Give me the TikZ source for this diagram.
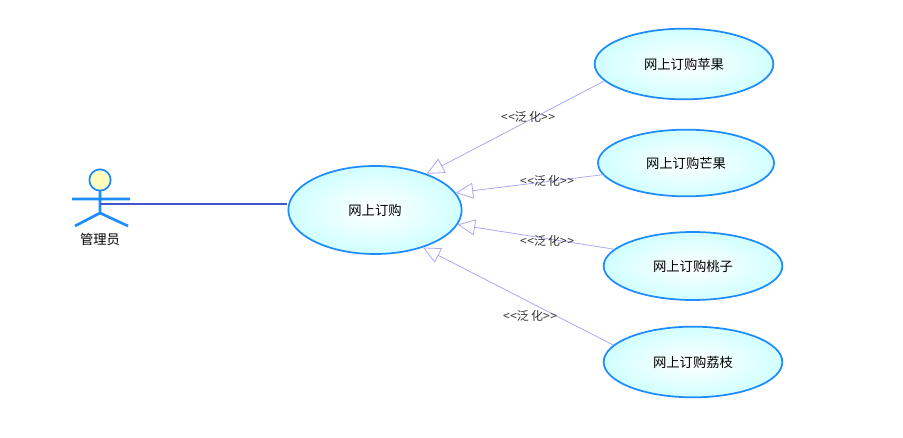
\documentclass[tikz,border=0pt]{standalone}
\usepackage{fontspec}
\setmainfont{Noto Sans CJK SC}
\usetikzlibrary{arrows.meta,shapes.geometric}
\definecolor{uc}{RGB}{30,140,255}
\definecolor{ln}{RGB}{170,170,240}
\tikzset{
 usecase/.style={ellipse,draw=uc,line width=1.3pt,inner color=white,outer color=cyan!18,font=\normalsize},
 gen/.style={draw=ln,line width=0.6pt,-{Triangle[open,length=13pt,width=12pt]}},
 glabel/.style={font=\small,text=black!80}
}
\newcommand{\gl}{<\kern0.5pt<泛\,化>\kern0.5pt>}
\begin{document}
\begin{tikzpicture}[x=0.75pt,y=-0.75pt]
\useasboundingbox (0,0) rectangle (903,438);
\fill[white] (0,0) rectangle (903,438);
% actor
\node[circle,draw=uc,line width=1.3pt,fill=yellow!25,minimum size=16pt,inner sep=0] (head) at (100,180) {};
\coordinate (neck) at (100,191);
\coordinate (hip) at (100,213);
\coordinate (arm) at (100,204);
\draw[uc,line width=2pt] (neck)--(hip) (72,199)--(130,199) (hip)--(75,226) (hip)--(128,226);
\node[font=\normalsize] (lab) at (100,239) {管理员};
\node[usecase,minimum width=130pt,minimum height=66pt] (main) at (375,210) {网上订购};
\node[usecase,minimum width=134pt,minimum height=53pt] (a) at (684,64) {网上订购苹果};
\node[usecase,minimum width=132pt,minimum height=50pt] (b) at (686,163) {网上订购芒果};
\node[usecase,minimum width=134pt,minimum height=51pt] (c) at (693,266) {网上订购桃子};
\node[usecase,minimum width=134pt,minimum height=53pt] (d) at (693,362) {网上订购荔枝};
\draw[draw=uc!60!violet,line width=0.8pt] (arm) -- (main.west |- arm);
\draw[gen] (a.192) -- (main.35);
\draw[gen] (b.188) -- (main.12);
\draw[gen] (c.168) -- (main.-10);
\draw[gen] (d.168) -- (main.-38);
\node[glabel] (l1) at (528,117) {\gl};
\node[glabel] (l2) at (547,181) {\gl};
\node[glabel] (l3) at (547,241) {\gl};
\node[glabel] (l4) at (530,316) {\gl};
\end{tikzpicture}
\end{document}
